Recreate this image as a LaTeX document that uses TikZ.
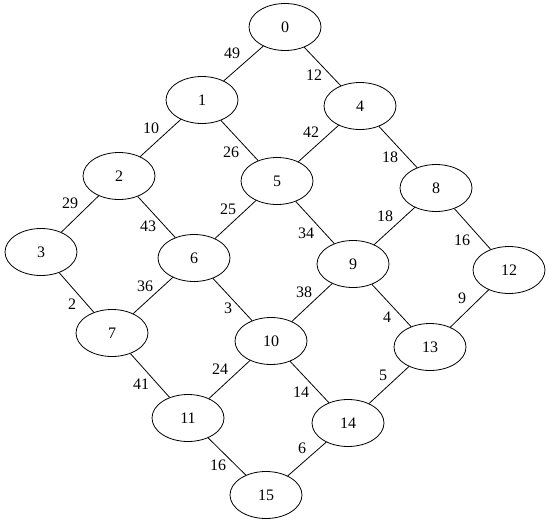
\documentclass[tikz,border=0pt]{standalone}
\usepackage{fontspec}
\setmainfont{Liberation Serif}
\usetikzlibrary{shapes.geometric}

\begin{document}
\begin{tikzpicture}[x=1pt,y=-1pt,
  vtx/.style={draw,ellipse,line width=0.8pt,minimum width=72pt,minimum height=47pt,inner sep=0pt,font=\fontsize{16}{18}\selectfont},
  wt/.style={inner sep=1pt,font=\fontsize{16}{18}\selectfont},
  edge/.style={line width=0.8pt}]
\useasboundingbox (0,0) rectangle (549,525);
% vertices
\node[vtx] (n0) at (285,27) {0};
\node[vtx] (n1) at (202,100) {1};
\node[vtx] (n4) at (360,106) {4};
\node[vtx] (n2) at (119,176) {2};
\node[vtx] (n5) at (277,181) {5};
\node[vtx] (n8) at (436,188) {8};
\node[vtx] (n3) at (41,252) {3};
\node[vtx] (n6) at (194,258) {6};
\node[vtx] (n9) at (353,264) {9};
\node[vtx] (n12) at (509,270) {12};
\node[vtx] (n7) at (112,333) {7};
\node[vtx] (n10) at (271,341) {10};
\node[vtx] (n13) at (430,347) {13};
\node[vtx] (n11) at (188,418) {11};
\node[vtx] (n14) at (348,423) {14};
\node[vtx] (n15) at (266,495) {15};
% edges
\draw[edge] (n0)--(n1);
\draw[edge] (n0)--(n4);
\draw[edge] (n1)--(n2);
\draw[edge] (n1)--(n5);
\draw[edge] (n4)--(n5);
\draw[edge] (n4)--(n8);
\draw[edge] (n2)--(n3);
\draw[edge] (n2)--(n6);
\draw[edge] (n5)--(n6);
\draw[edge] (n5)--(n9);
\draw[edge] (n8)--(n9);
\draw[edge] (n8)--(n12);
\draw[edge] (n3)--(n7);
\draw[edge] (n6)--(n7);
\draw[edge] (n6)--(n10);
\draw[edge] (n9)--(n10);
\draw[edge] (n9)--(n13);
\draw[edge] (n12)--(n13);
\draw[edge] (n7)--(n11);
\draw[edge] (n10)--(n11);
\draw[edge] (n10)--(n14);
\draw[edge] (n13)--(n14);
\draw[edge] (n11)--(n15);
\draw[edge] (n14)--(n15);
% weights
\node[wt] (w01) at (232,53) {49};
\node[wt] (w04) at (314,75) {12};
\node[wt] (w12) at (151,128) {10};
\node[wt] (w15) at (231,152) {26};
\node[wt] (w45) at (311,132) {42};
\node[wt] (w48) at (390,157) {18};
\node[wt] (w23) at (70,203) {29};
\node[wt] (w26) at (148,226) {43};
\node[wt] (w56) at (228,209) {25};
\node[wt] (w59) at (306,233) {34};
\node[wt] (w89) at (385,216) {18};
\node[wt] (w812) at (462,240) {16};
\node[wt] (w37) at (72,304) {2};
\node[wt] (w67) at (145,286) {36};
\node[wt] (w610) at (228,308) {3};
\node[wt] (w910) at (304,292) {38};
\node[wt] (w913) at (387,317) {4};
\node[wt] (w1213) at (462,298) {9};
\node[wt] (w711) at (141,384) {41};
\node[wt] (w1011) at (220,369) {24};
\node[wt] (w1014) at (301,392) {14};
\node[wt] (w1314) at (383,375) {5};
\node[wt] (w1115) at (218,465) {16};
\node[wt] (w1415) at (302,448) {6};
\end{tikzpicture}
\end{document}
